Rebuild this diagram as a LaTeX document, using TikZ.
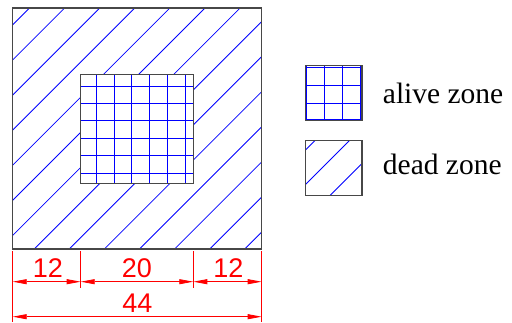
\documentclass[tikz,border=0pt]{standalone}
\usepackage{fontspec}
\setmainfont{Liberation Serif}
\newfontfamily\dimfont{Liberation Sans}
\newfontfamily\legfont{Liberation Serif}
\usetikzlibrary{arrows.meta}
\definecolor{hatchblue}{HTML}{0000FF}
\definecolor{dimred}{HTML}{FF0000}
\colorlet{edgegrey}{black!72}

\begin{document}
\begin{tikzpicture}[
    x=1pt, y=-1pt,
    edge/.style={draw=edgegrey, line width=1.1pt},
    hatch/.style={hatchblue, line width=0.8pt},
    extline/.style={dimred, line width=0.7pt},
    dimarr/.style={{Triangle[length=14pt, width=5pt]}-{Triangle[length=14pt, width=5pt]},
                   dimred, line width=0.8pt},
    dimlabel/.style={font=\dimfont\fontsize{27}{27}\selectfont, text=dimred,
                     anchor=base, inner sep=0pt},
    legtext/.style={font=\legfont\fontsize{29.5}{29.5}\selectfont, anchor=base west,
                    inner sep=0pt},
]
\useasboundingbox (0,0) rectangle (512,322);

% outer square / inner square (image coords, px)
\def\oxa{12.7}  \def\oya{8}   \def\oxb{261.7} \def\oyb{249}
\def\ixa{80.7}  \def\iya{74.7} \def\ixb{193.3} \def\iyb{183.3}

% ════════════════════════════════════════════════════════════
% DEAD ZONE: diagonal hatching
% ════════════════════════════════════════════════════════════
\begin{scope}
    \clip (\oxa,\oya) rectangle (\oxb,\oyb);
    \foreach \k in {0,...,13} {
        \pgfmathsetmacro\hc{37.5+35.1*\k}
        \draw[hatch] (\hc,0) -- ++(-400,400);
    }
\end{scope}

% ════════════════════════════════════════════════════════════
% ALIVE ZONE: grid
% ════════════════════════════════════════════════════════════
\fill[white] (\ixa,\iya) rectangle (\ixb,\iyb);
\foreach \k in {0,...,5} {
    \draw[hatch] (96+17.9*\k,\iya) -- (96+17.9*\k,\iyb);
    \draw[hatch] (\ixa,86+17.4*\k) -- (\ixb,86+17.4*\k);
}
\draw[edge] (\ixa,\iya) rectangle (\ixb,\iyb);
\draw[edge] (\oxa,\oya) rectangle (\oxb,\oyb);

% ── Legend ──
\foreach \x in {306.5, 324.3, 342.3, 360.5}
    \draw[hatch] (\x,65.3) -- (\x,120.7);
\foreach \y in {67, 85.7, 103.3, 119.5}
    \draw[hatch] (305.3,\y) -- (362,\y);
\draw[edge] (305.3,65.3) rectangle (362,120.7);
\node[legtext] (alive) at (382.7,103.3) {alive zone};

\begin{scope}
    \clip (305.3,140.7) rectangle (362,195.7);
    \foreach \hc in {455.5, 490, 525.5}
        \draw[hatch] (\hc,0) -- ++(-300,300);
\end{scope}
\draw[edge] (305.3,140.7) rectangle (362,195.7);
\node[legtext] (dead) at (382.7,174) {dead zone};

% ════════════════════════════════════════════════════════════
% DIMENSIONS
% ════════════════════════════════════════════════════════════
\coordinate (t0) at (\oxa,251);  \coordinate (b0) at (\oxa,322);
\coordinate (t1) at (\ixa,251);  \coordinate (b1) at (\ixa,288);
\coordinate (t2) at (\ixb,251);  \coordinate (b2) at (\ixb,288);
\coordinate (t3) at (\oxb,251);  \coordinate (b3) at (\oxb,322);
\foreach \i in {0,...,3}
    \draw[extline] (t\i) -- (b\i);

\coordinate (d0) at (\oxa,281.7);
\coordinate (d1) at (\ixa,281.7);
\coordinate (d2) at (\ixb,281.7);
\coordinate (d3) at (\oxb,281.7);
\coordinate (e0) at (\oxa,316.7);
\coordinate (e3) at (\oxb,316.7);

\draw[dimarr] (d0) -- (d1);
\draw[dimarr] (d1) -- (d2);
\draw[dimarr] (d2) -- (d3);
\draw[dimarr] (e0) -- (e3);

\node[dimlabel] (w1) at (47.8,277.3) {12};
\node[dimlabel] (w2) at (136.8,277.3) {20};
\node[dimlabel] (w3) at (228.3,277.3) {12};
\node[dimlabel] (wt) at (137.5,312.7) {44};

\end{tikzpicture}
\end{document}
